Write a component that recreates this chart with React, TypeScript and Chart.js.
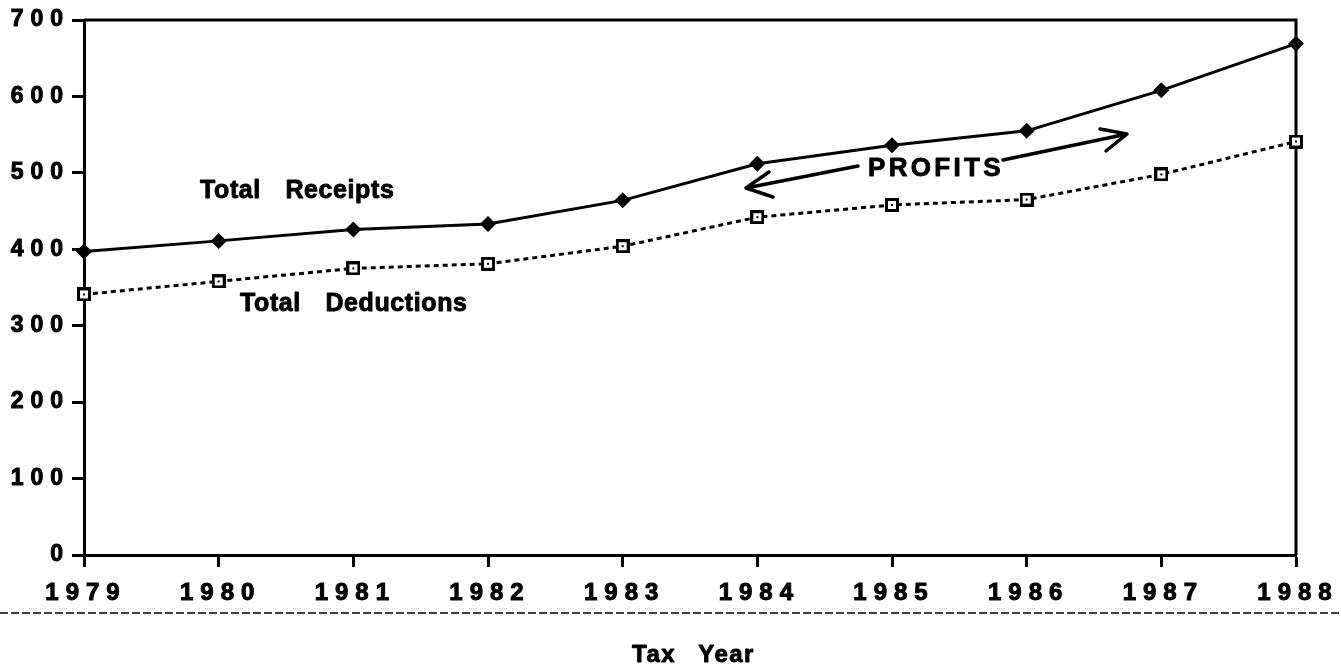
import React, { useEffect, useRef } from "react";
import { Chart, registerables } from "chart.js";

Chart.register(...registerables);

const years = ["1979", "1980", "1981", "1982", "1983", "1984", "1985", "1986", "1987", "1988"];
const totalReceipts = [397, 411, 426, 433, 464, 512, 536, 555, 608, 669];
const totalDeductions = [341, 358, 375, 381, 404, 442, 458, 465, 498, 541];
const yTicks = [0, 100, 200, 300, 400, 500, 600, 700];

const FONT = "'Liberation Sans', Arial, Helvetica, sans-serif";

function makeSquareMarker(): HTMLCanvasElement {
  const c = document.createElement("canvas");
  c.width = 14;
  c.height = 14;
  const g = c.getContext("2d")!;
  g.fillStyle = "#000";
  g.fillRect(0, 0, 14, 14);
  g.fillStyle = "#fff";
  g.fillRect(3, 3, 8, 8);
  g.fillStyle = "#000";
  g.fillRect(6, 6, 2, 2);
  return c;
}

export default function App() {
  const ref = useRef<HTMLCanvasElement | null>(null);

  useEffect(() => {
    document.body.style.margin = "0";
    const canvas = ref.current!;
    const square = makeSquareMarker();

    const spacingPlugin = {
      id: "spacing",
      beforeDraw(chart: any) {
        chart.ctx.letterSpacing = "7px";
      },
      beforeDatasetsDraw(chart: any) {
        const ctx = chart.ctx;
        ctx.letterSpacing = "0px";
        const { left, right, top, bottom } = chart.chartArea;
        ctx.save();
        ctx.strokeStyle = "#000";
        ctx.lineWidth = 3;
        ctx.beginPath();
        ctx.moveTo(left, top);
        ctx.lineTo(right, top);
        ctx.lineTo(right, bottom);
        ctx.stroke();
        ctx.restore();
      },
      afterDraw(chart: any) {
        const ctx = chart.ctx;
        ctx.save();
        ctx.fillStyle = "#000";
        ctx.strokeStyle = "#000";
        // separator dashed line
        ctx.lineWidth = 1.5;
        ctx.setLineDash([8, 3]);
        ctx.beginPath();
        ctx.moveTo(0, 613);
        ctx.lineTo(chart.width, 613);
        ctx.stroke();
        ctx.setLineDash([]);

        const txt = (s: string, x: number, y: number, size: number, ls: number, ws: number) => {
          ctx.font = `bold ${size}px ${FONT}`;
          ctx.letterSpacing = `${ls}px`;
          (ctx as any).wordSpacing = `${ws}px`;
          ctx.textAlign = "left";
          ctx.textBaseline = "alphabetic";
          ctx.lineWidth = 0.9;
          ctx.lineJoin = "round";
          ctx.fillText(s, x, y);
          ctx.strokeText(s, x, y);
        };
        txt("Tax Year", 632, 662, 24, 1.5, 14);
        txt("Total Receipts", 200, 198, 25, 0.6, 17);
        txt("Total Deductions", 240, 311, 25, 0.6, 17);
        txt("PROFITS", 868, 176, 26, 3.3, 0);
        ctx.letterSpacing = "0px";
        (ctx as any).wordSpacing = "0px";

        // arrows
        ctx.lineWidth = 3.5;
        ctx.lineCap = "round";
        ctx.lineJoin = "round";
        ctx.beginPath();
        ctx.moveTo(858, 166);
        ctx.lineTo(746, 188);
        ctx.moveTo(769, 172);
        ctx.lineTo(746, 188);
        ctx.lineTo(773, 197);
        ctx.moveTo(1003, 160);
        ctx.lineTo(1127, 134);
        ctx.moveTo(1100, 129);
        ctx.lineTo(1127, 134);
        ctx.lineTo(1106, 151);
        ctx.stroke();
        ctx.restore();
      },
    };

    const chart = new Chart(canvas, {
      type: "line",
      data: {
        labels: years,
        datasets: [
          {
            label: "Total Receipts",
            data: totalReceipts,
            borderColor: "#000",
            backgroundColor: "#000",
            borderWidth: 3,
            pointStyle: "rectRot",
            pointRadius: 8,
            pointBorderWidth: 0,
            pointBackgroundColor: "#000",
            tension: 0,
          },
          {
            label: "Total Deductions",
            data: totalDeductions,
            borderColor: "#000",
            backgroundColor: "#fff",
            borderWidth: 3,
            borderDash: [5, 4],
            pointStyle: square as any,
            pointRadius: 7,
            tension: 0,
          },
        ],
      },
      options: {
        animation: false,
        responsive: false,
        layout: { padding: { left: 0, right: 45, top: 20, bottom: 0 } },
        plugins: { legend: { display: false }, tooltip: { enabled: false } },
        scales: {
          x: {
            type: "category",
            offset: false,
            grid: { drawOnChartArea: false, drawTicks: true, tickLength: 12, tickWidth: 3, tickColor: "#000" },
            border: { display: true, color: "#000", width: 3 },
            ticks: {
              color: "#000",
              font: { family: FONT, size: 24, weight: "bold" },
              padding: 12,
              labelOffset: 2,
              maxRotation: 0,
              autoSkip: false,
              textStrokeColor: "#000",
              textStrokeWidth: 1,
            },
            afterFit(scale: any) {
              scale.height = 115;
            },
          },
          y: {
            min: 0,
            max: 700,
            afterBuildTicks(scale: any) {
              scale.ticks = yTicks.map((v) => ({ value: v }));
            },
            grid: { drawOnChartArea: false, drawTicks: true, tickLength: 12, tickWidth: 3, tickColor: "#000" },
            border: { display: true, color: "#000", width: 3 },
            ticks: {
              color: "#000",
              font: { family: FONT, size: 23, weight: "bold" },
              padding: 2,
              textStrokeColor: "#000",
              textStrokeWidth: 1,
            },
            afterFit(scale: any) {
              scale.width = 84;
            },
          },
        },
      },
      plugins: [spacingPlugin],
    });

    return () => chart.destroy();
  }, []);

  return <canvas ref={ref} width={1341} height={670} style={{ display: "block" }} />;
}
